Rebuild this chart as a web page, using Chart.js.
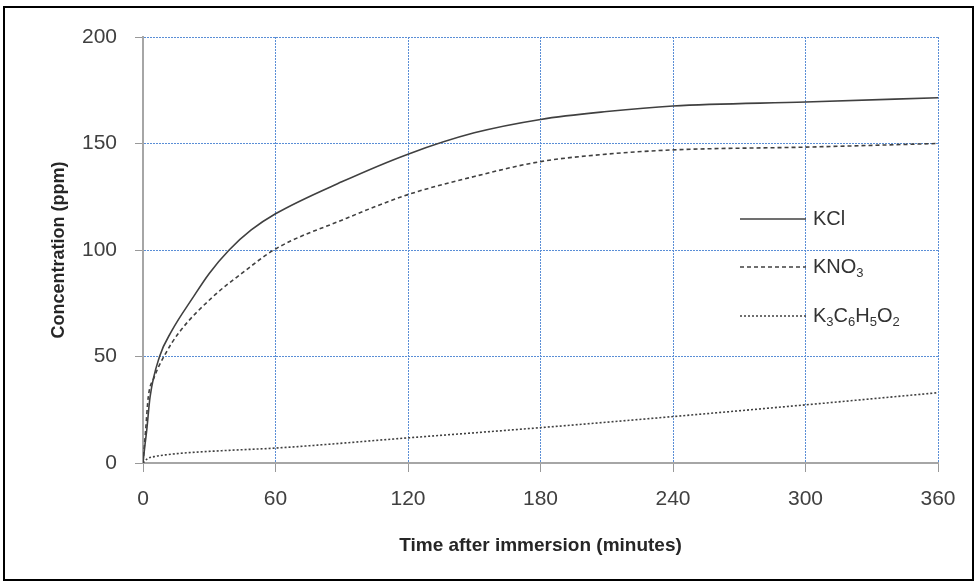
<!DOCTYPE html>
<html>
<head>
<meta charset="utf-8">
<script src="https://cdn.jsdelivr.net/npm/chart.js@4"></script>
<style>
  html, body { margin: 0; padding: 0; background: #fff; }
  #wrap { width: 977px; height: 588px; }
</style>
</head>
<body>
<div id="wrap"><canvas id="grafico"></canvas></div>
<script>
// datos
const kclTime = [0, 0.8, 1.7, 3.2, 7.5, 13, 22.5, 30, 39, 49, 60, 90, 120, 150, 180, 210, 240, 300, 360];
const kclConc = [0, 7.7, 15.5, 31, 50, 62, 77.5, 89, 100, 109.4, 117, 132, 145, 155, 161.3, 165, 167.6, 169.5, 171.5];

const kno3Time = [0, 1.2, 2.4, 5, 10, 16.5, 31.6, 44.7, 60, 90, 120, 150, 180, 210, 240, 300, 360];
const kno3Conc = [0, 15.5, 31, 40, 51, 61.5, 78, 89, 100.5, 114, 126, 134.5, 141.5, 145, 147, 148.3, 150];

const citTime = [0, 2, 5, 10, 20, 40, 60, 120, 180, 240, 300, 360];
const citConc = [0, 2, 3, 3.8, 4.8, 6, 7, 11.8, 16.6, 21.8, 27.3, 33];

const xTicks = [0, 60, 120, 180, 240, 300, 360];
const yTicks = [0, 50, 100, 150, 200];

const toPts = (t, c) => t.map((x, i) => ({ x, y: c[i] }));

const fontFam = "'Liberation Sans', Arial, sans-serif";

// leyenda con subindices + marco exterior
const leyenda = {
  id: 'leyenda',
  afterDraw(chart) {
    const ctx = chart.ctx;
    const items = [
      { parts: [['KCl', 0]], dash: [], y: 219 },
      { parts: [['KNO', 0], ['3', 1]], dash: [4, 3], y: 267 },
      { parts: [['K', 0], ['3', 1], ['C', 0], ['6', 1], ['H', 0], ['5', 1], ['O', 0], ['2', 1]], dash: [2, 2], y: 316 }
    ];
    ctx.save();
    items.forEach(it => {
      ctx.strokeStyle = '#404040';
      ctx.lineWidth = 1.5;
      ctx.setLineDash(it.dash);
      ctx.beginPath();
      ctx.moveTo(740, it.y);
      ctx.lineTo(806, it.y);
      ctx.stroke();
      ctx.setLineDash([]);
      let x = 813;
      ctx.fillStyle = '#333';
      ctx.textBaseline = 'middle';
      it.parts.forEach(([txt, sub]) => {
        ctx.font = sub ? `13px ${fontFam}` : `20px ${fontFam}`;
        ctx.fillText(txt, x, sub ? it.y + 6 : it.y);
        x += ctx.measureText(txt).width;
      });
    });
    ctx.strokeStyle = '#000';
    ctx.lineWidth = 2;
    ctx.strokeRect(4, 7, 969, 573);
    ctx.restore();
  }
};

const ctx = document.getElementById('grafico').getContext('2d');
new Chart(ctx, {
  type: 'line',
  data: {
    datasets: [
      {
        label: 'KCl',
        data: toPts(kclTime, kclConc),
        borderColor: '#404040',
        borderWidth: 1.6,
        pointRadius: 0,
        cubicInterpolationMode: 'monotone'
      },
      {
        label: 'KNO3',
        data: toPts(kno3Time, kno3Conc),
        borderColor: '#404040',
        borderWidth: 1.6,
        borderDash: [4, 3],
        pointRadius: 0,
        cubicInterpolationMode: 'monotone'
      },
      {
        label: 'K3C6H5O2',
        data: toPts(citTime, citConc),
        borderColor: '#404040',
        borderWidth: 1.6,
        borderDash: [2, 2],
        pointRadius: 0,
        cubicInterpolationMode: 'monotone'
      }
    ]
  },
  options: {
    responsive: true,
    maintainAspectRatio: false,
    animation: false,
    layout: { padding: { left: 0, top: 37, right: 39, bottom: 0 } },
    plugins: {
      legend: { display: false },
      tooltip: { enabled: false }
    },
    scales: {
      x: {
        type: 'linear',
        min: 0,
        max: 360,
        afterBuildTicks: s => { s.ticks = xTicks.map(v => ({ value: v })); },
        afterFit: s => { s.height = 125; },
        ticks: {
          color: '#404040',
          font: { family: fontFam, size: 21 },
          padding: 15,
          maxRotation: 0
        },
        grid: {
          color: '#5a8ed6',
          lineWidth: 1,
          tickColor: '#999',
          tickLength: 9,
          tickBorderDash: []
        },
        border: { color: '#a6a6a6', width: 2, dash: [2, 1] },
        title: {
          display: true,
          text: 'Time after immersion (minutes)',
          color: '#262626',
          font: { family: fontFam, size: 19, weight: 'bold' },
          padding: { top: 0, bottom: 31 }
        }
      },
      y: {
        min: 0,
        max: 200,
        afterBuildTicks: s => { s.ticks = yTicks.map(v => ({ value: v })); },
        afterFit: s => { s.width = 143; },
        ticks: {
          color: '#404040',
          font: { family: fontFam, size: 21 },
          padding: 18
        },
        grid: {
          color: '#5a8ed6',
          lineWidth: 1,
          tickColor: '#999',
          tickLength: 8,
          tickBorderDash: []
        },
        border: { color: '#a6a6a6', width: 2, dash: [2, 1] },
        title: {
          display: true,
          text: 'Concentration (ppm)',
          color: '#262626',
          font: { family: fontFam, size: 18, weight: 'bold' },
          padding: { top: 48, bottom: 0 }
        }
      }
    }
  },
  plugins: [leyenda]
});
</script>
</body>
</html>
